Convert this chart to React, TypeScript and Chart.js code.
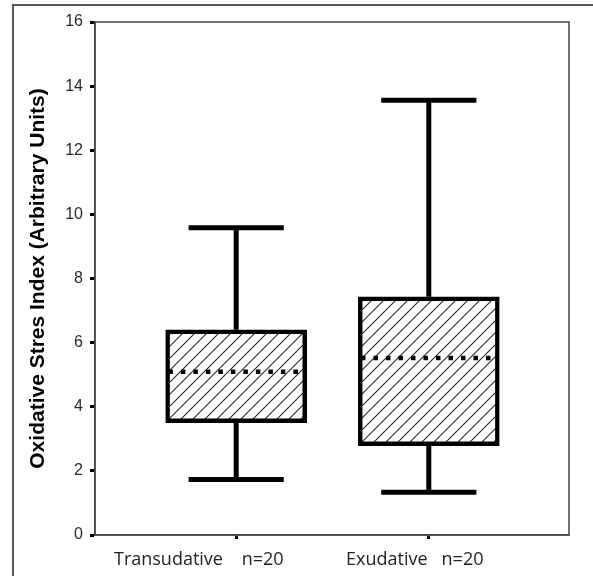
import React, { useEffect, useRef } from 'react';
import { Chart, registerables } from 'chart.js';

Chart.register(...registerables);

// ---- data ----
const categories = ['Transudative', 'Exudative'];
const sampleSizes = ['n=20', 'n=20'];
const whiskerHigh = [9.58, 13.56];
const upperQuartile = [6.4, 7.43];
const medians = [5.09, 5.52];
const lowerQuartile = [3.5, 2.79];
const whiskerLow = [1.73, 1.33];
const yMin = 0;
const yMax = 16;
const yStep = 2;
const yAxisTitle = 'Oxidative Stres Index (Arbitrary Units)';

// ---- styling / layout (not data) ----
const W = 593;
const H = 576;
const LABEL_FONT = '18px "Open Sans"';
const labelGapPx = [19, 15];
const labelShiftPx = [-38, -14];

function makeHatch(): CanvasPattern | string {
  const s = 12;
  const c = document.createElement('canvas');
  c.width = s;
  c.height = s;
  const g = c.getContext('2d');
  if (!g) return '#fff';
  g.fillStyle = '#ffffff';
  g.fillRect(0, 0, s, s);
  g.strokeStyle = '#2a2a2a';
  g.lineWidth = 1.1;
  g.beginPath();
  g.moveTo(-2, s + 2);
  g.lineTo(s + 2, -2);
  g.moveTo(-2, 2);
  g.lineTo(2, -2);
  g.moveTo(s - 2, s + 2);
  g.lineTo(s + 2, s - 2);
  g.stroke();
  const p = g.createPattern(c, 'repeat');
  return p || '#fff';
}

function spaceWidth(font: string): number {
  const c = document.createElement('canvas');
  const g = c.getContext('2d');
  if (!g) return 4;
  g.font = font;
  return g.measureText(' ').width || 4;
}

const framePlugin = {
  id: 'frames',
  beforeDraw(chart: any) {
    const ctx = chart.ctx;
    ctx.save();
    ctx.strokeStyle = '#555';
    ctx.lineWidth = 2;
    ctx.strokeRect(13, 5, 800, 800);
    ctx.restore();
  },
  beforeDatasetsDraw(chart: any) {
    const { ctx, chartArea } = chart;
    ctx.save();
    ctx.strokeStyle = '#444';
    ctx.lineWidth = 1.5;
    ctx.strokeRect(chartArea.left, chartArea.top, chartArea.right - chartArea.left, chartArea.bottom - chartArea.top);
    ctx.restore();
  },
};

export default function App() {
  const ref = useRef<HTMLCanvasElement | null>(null);

  useEffect(() => {
    if (!ref.current) return;
    const hatch = makeHatch();
    const sw = spaceWidth(LABEL_FONT);
    const labels = categories.map((c, i) => {
      const gap = ' '.repeat(Math.max(1, Math.round(labelGapPx[i] / sw)));
      const trail = ' '.repeat(Math.max(0, Math.round((-2 * labelShiftPx[i]) / sw)));
      return c + gap + sampleSizes[i] + trail;
    });

    const capHalf = 0.247;
    const medHalf = 0.352;
    const lineBase = {
      type: 'line' as const,
      borderColor: '#000',
      pointRadius: 0,
      borderCapStyle: 'butt' as const,
      fill: false,
      order: 1,
    };

    const datasets: any[] = [
      {
        type: 'bar',
        data: categories.map((_, i) => ({ x: i + 1, y: [lowerQuartile[i], upperQuartile[i]] })),
        backgroundColor: hatch,
        borderColor: '#000',
        borderWidth: 4.5,
        borderSkipped: false,
        barThickness: 141,
        order: 2,
      },
    ];

    categories.forEach((_, i) => {
      const x = i + 1;
      datasets.push({ ...lineBase, borderWidth: 5, data: [{ x, y: upperQuartile[i] }, { x, y: whiskerHigh[i] }] });
      datasets.push({ ...lineBase, borderWidth: 5, data: [{ x, y: lowerQuartile[i] }, { x, y: whiskerLow[i] }] });
      datasets.push({ ...lineBase, borderWidth: 5, data: [{ x: x - capHalf, y: whiskerHigh[i] }, { x: x + capHalf, y: whiskerHigh[i] }] });
      datasets.push({ ...lineBase, borderWidth: 5, data: [{ x: x - capHalf, y: whiskerLow[i] }, { x: x + capHalf, y: whiskerLow[i] }] });
      datasets.push({
        ...lineBase,
        borderWidth: 4.5,
        borderDash: [4.5, 8],
        data: [{ x: x - medHalf, y: medians[i] }, { x: x + medHalf, y: medians[i] }],
      });
    });

    const chart = new Chart(ref.current, {
      type: 'bar',
      data: { datasets },
      plugins: [framePlugin],
      options: {
        responsive: false,
        animation: false,
        devicePixelRatio: 1,
        layout: { padding: { top: 22, right: 24, left: 0, bottom: 0 } },
        plugins: { legend: { display: false }, tooltip: { enabled: false } },
        scales: {
          x: {
            type: 'linear',
            min: 0.267,
            max: 2.728,
            offset: false,
            afterBuildTicks: (s: any) => {
              s.ticks = categories.map((_, i) => ({ value: i + 1 }));
            },
            afterFit: (s: any) => {
              s.height = 41;
            },
            grid: {
              offset: false,
              drawOnChartArea: false,
              drawTicks: true,
              tickLength: 4,
              tickWidth: 3,
              tickColor: '#000',
            },
            border: { display: true, color: '#444', width: 1.5 },
            ticks: {
              autoSkip: false,
              maxRotation: 0,
              minRotation: 0,
              padding: 10,
              color: '#222',
              font: { family: 'Open Sans', size: 18 },
              callback: (v: any) => {
                const idx = Math.round(Number(v)) - 1;
                return labels[idx] ?? '';
              },
            },
          },
          y: {
            type: 'linear',
            min: yMin,
            max: yMax,
            afterFit: (s: any) => {
              s.width = 95;
            },
            grid: {
              drawOnChartArea: false,
              drawTicks: true,
              tickLength: 5,
              tickWidth: 3,
              tickColor: '#000',
            },
            border: { display: true, color: '#444', width: 1.5 },
            ticks: {
              stepSize: yStep,
              padding: 7,
              color: '#2a2a2a',
              font: { family: 'Liberation Sans', size: 16 },
            },
            title: {
              display: true,
              text: yAxisTitle,
              color: '#000',
              font: { family: 'Liberation Sans', size: 21, weight: 'bold', lineHeight: 1 },
              padding: { top: 28, bottom: 0 },
            },
          },
        },
      } as any,
    });
    return () => chart.destroy();
  }, []);

  return (
    <div style={{ position: 'fixed', left: 0, top: 0, width: W, height: H, background: '#fff' }}>
      <canvas ref={ref} width={W} height={H} style={{ width: W, height: H, display: 'block' }} />
    </div>
  );
}
